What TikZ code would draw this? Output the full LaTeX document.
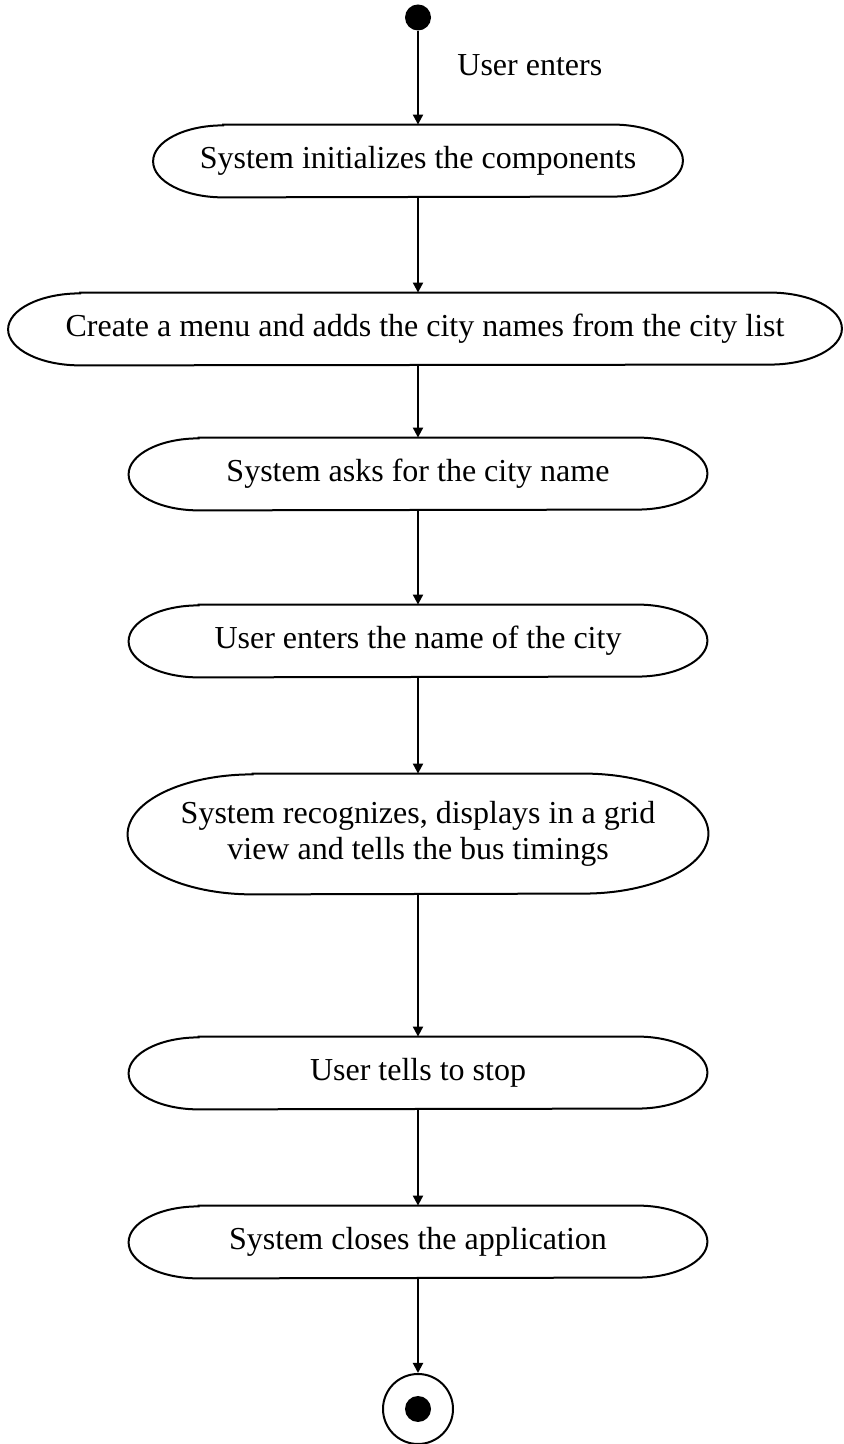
\documentclass[tikz,border=0pt]{standalone}
\usepackage{fontspec}
\setmainfont{Liberation Serif}
\usetikzlibrary{arrows.meta}

% one unit = 0.5pt, y grows upwards
\tikzset{
  x=0.5pt, y=0.5pt,
  act/.style={draw=none, inner sep=0pt, align=center,
    font=\fontsize{16}{18}\selectfont},
  outline/.style={line width=1pt},
  flow/.style={line width=1pt, -{Triangle[length=5pt,width=5pt]}},
  lbl/.style={font=\fontsize{16}{18}\selectfont, inner sep=0pt},
}

% activity: name, x, y, width, height, end radius, text
\newcommand\actnode[7]{%
  \node[act, minimum width={#4*0.5pt}, minimum height={#5*0.5pt}] (#1) at (#2,#3) {#7};
  \draw[outline] ([xshift={#6*0.5pt}]#1.north west) -- ([xshift={-#6*0.5pt}]#1.north east)
    arc[start angle=90, end angle=-90, x radius={#6*0.5pt}, y radius={#5*0.25pt}]
    -- ([xshift={#6*0.5pt}]#1.south west)
    arc[start angle=270, end angle=90, x radius={#6*0.5pt}, y radius={#5*0.25pt}]
    -- cycle;
}

\begin{document}
\begin{tikzpicture}
\useasboundingbox (0,0) rectangle (843,1444);

% start state and its transition label
\node[circle, fill, inner sep=0pt, minimum size=13pt] (start) at (418,1426.5) {};
\node[lbl, anchor=west] (enters) at (457,1379) {User enters};

% activities
\actnode{init}{418}{1283}{529}{72}{70}{System initializes the components}
\actnode{menu}{425}{1115}{833}{72}{72}{Create a menu and adds the city names from the city list}
\actnode{ask}{418}{970}{578}{72}{70}{System asks for the city name}
\actnode{city}{418}{803}{578}{72}{70}{User enters the name of the city}
\actnode{grid}{418}{610}{580}{120}{125}{System recognizes, displays in a grid\\view and tells the bus timings}
\actnode{stop}{418}{371}{578}{72}{70}{User tells to stop}
\actnode{close}{418}{202}{578}{72}{70}{System closes the application}

% final state
\node[circle, draw, line width=1pt, inner sep=0pt, minimum size=35pt] (final) at (418,35) {};
\node[circle, fill, inner sep=0pt, minimum size=13pt] (finaldot) at (final.center) {};

% transitions
\draw[flow] (start) -- (init.north);
\draw[flow] (init.south) -- (init.south |- menu.north);
\draw[flow] (init.south |- menu.south) -- (ask.north);
\draw[flow] (ask.south) -- (city.north);
\draw[flow] (city.south) -- (grid.north);
\draw[flow] (grid.south) -- (stop.north);
\draw[flow] (stop.south) -- (close.north);
\draw[flow] (close.south) -- (final.north);
\end{tikzpicture}
\end{document}
